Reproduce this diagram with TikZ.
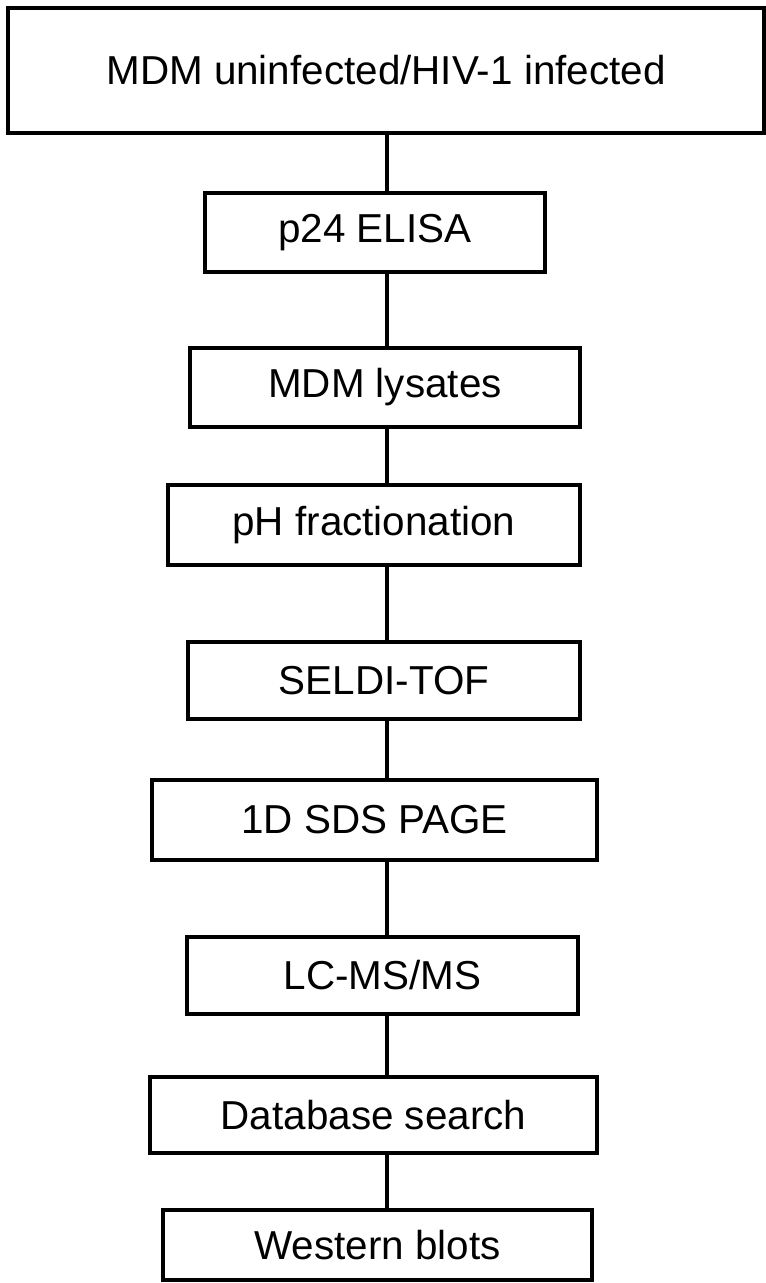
\documentclass[tikz,border=0pt]{standalone}
\usepackage{fontspec}
\setmainfont{Liberation Sans}
\begin{document}
\begin{tikzpicture}[x=0.02cm,y=-0.02cm,
  stage/.style={draw,line width=2pt,inner sep=0pt,font=\fontsize{23}{28}\selectfont},
  link/.style={line width=2.2pt}]
 \useasboundingbox (0,0) rectangle (766,1283);
 \coordinate (spine) at (387,0);
 \node[stage,minimum width=15.12cm,minimum height=2.5cm] (mdm) at (386,70.5) {MDM uninfected/HIV-1 infected};
 \node[stage,minimum width=6.8cm,minimum height=1.58cm] (p24) at (375,232.5) {p24 ELISA};
 \node[stage,minimum width=7.8cm,minimum height=1.58cm] (lysate) at (385,387.5) {MDM lysates};
 \node[stage,minimum width=8.24cm,minimum height=1.6cm] (ph) at (374,525) {pH fractionation};
 \node[stage,minimum width=7.84cm,minimum height=1.54cm] (seldi) at (384,680.5) {SELDI-TOF};
 \node[stage,minimum width=8.9cm,minimum height=1.6cm] (sds) at (374.5,820) {1D SDS PAGE};
 \node[stage,minimum width=7.82cm,minimum height=1.54cm] (lcms) at (382.5,975.5) {LC-MS/MS};
 \node[stage,minimum width=8.94cm,minimum height=1.52cm] (db) at (373.5,1115) {Database search};
 \node[stage,minimum width=8.58cm,minimum height=1.4cm] (wb) at (377.5,1245) {Western blots};
 % one straight line down the middle joins the steps
 \foreach \a/\b in {mdm/p24,p24/lysate,lysate/ph,ph/seldi,seldi/sds,sds/lcms,lcms/db,db/wb}
  \draw[link] (\a.south -| spine) -- (\b.north -| spine);
\end{tikzpicture}
\end{document}
